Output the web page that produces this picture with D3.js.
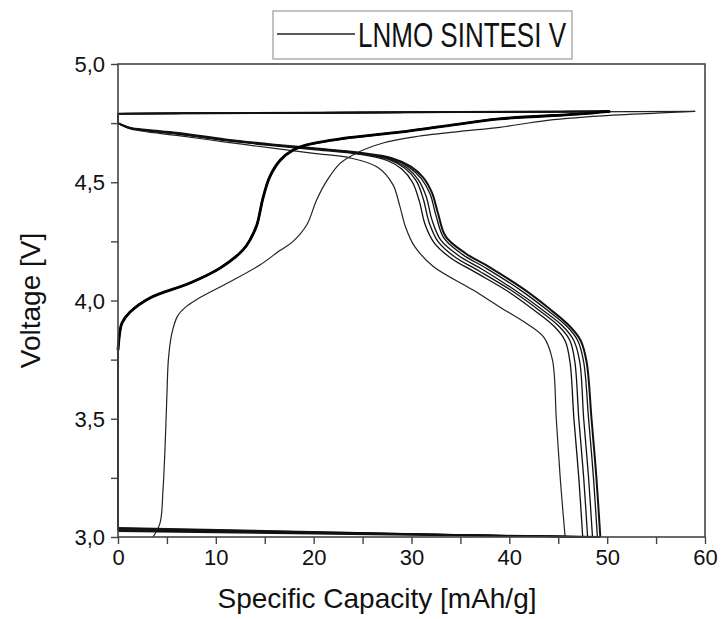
<!DOCTYPE html>
<html>
<head>
<meta charset="utf-8">
<script src="https://cdn.jsdelivr.net/npm/d3@7"></script>
<style>
  html, body { margin: 0; padding: 0; background: #fff; }
  svg { display: block; font-family: "Liberation Sans", Arial, sans-serif; }
</style>
</head>
<body>
<svg id="chart" width="721" height="619"></svg>
<script>
// ---- data (capacity mAh/g, voltage V) ----
const xTicks = [0, 10, 20, 30, 40, 50, 60];
const yTicks = [3.0, 3.5, 4.0, 4.5, 5.0];
const legendLabel = 'LNMO SINTESI V';

// first cycle charge (thin)
const charge1 = [[3.58,3.0],[4.3,3.06],[4.6,3.2],[4.8,3.37],[5.0,3.6],[5.15,3.75],[5.5,3.86],[6.1,3.935],
  [7.0,3.975],[8.2,4.008],[11.4,4.078],[14.5,4.15],[16.5,4.21],[17.9,4.25],[19.3,4.32],[20.3,4.425],
  [21.4,4.51],[22.7,4.58],[24.4,4.624],[27.1,4.666],[30,4.69],[35,4.715],[39,4.732],[43.9,4.762],
  [50.6,4.784],[55,4.792],[59,4.80]];

// later cycles charge (overlapping -> thick)
const chargeN = [[0,3.79],[0.2,3.87],[0.41,3.905],[1.23,3.951],[3.27,4.011],[7.36,4.074],[10.43,4.137],
  [12.78,4.214],[13.49,4.256],[14.2,4.32],[14.8,4.43],[15.5,4.522],[16.6,4.594],[17.9,4.636],[19.3,4.658],
  [23,4.685],[28.8,4.712],[33,4.735],[39,4.768],[46.9,4.788],[50.3,4.80]];

// voltage where each discharge hands over to the next charge (bottom connector)
const restV = [3.04, 3.037, 3.034, 3.031, 3.028, 3.025];
// voltage at the start of every discharge (top connector)
const topV = 4.79;

const discharge1 = [[0,4.75],[1.2,4.726],[3,4.713],[6,4.698],[11,4.67],[16,4.643],[20,4.622],
  [23.7,4.603],[26.5,4.564],[28.1,4.49],[28.8,4.40],[29.4,4.31],[30.3,4.23],[32.2,4.145],[36.3,4.044],
  [39,3.973],[41.5,3.91],[43.5,3.846],[44.4,3.75],[44.8,3.5],[45.2,3.25],[45.7,3.0]];

const discharge2 = [[0,4.75],[1.2,4.728],[3,4.717],[6,4.704],[11,4.676],[16,4.654],[20,4.638],
  [24.7,4.618],[27.5,4.592],[29,4.556],[30.1,4.50],[30.8,4.42],[31.4,4.32],[32.3,4.245],[34,4.18],
  [36.5,4.12],[39.8,4.04],[42.5,3.96],[44.6,3.89],[45.7,3.83],[46.2,3.74],[46.6,3.5],[47.1,3.25],[47.5,3.0]];

const discharge3 = [[0,4.75],[1.2,4.729],[3,4.718],[6,4.706],[11,4.678],[16,4.656],[20,4.641],
  [24.7,4.621],[27.7,4.596],[29.3,4.56],[30.5,4.505],[31.2,4.43],[31.8,4.33],[32.7,4.25],[34.4,4.185],
  [36.9,4.125],[40.3,4.04],[43,3.96],[45.1,3.89],[46.2,3.83],[46.7,3.74],[47.1,3.5],[47.6,3.25],[48.0,3.0]];

const discharge4 = [[0,4.75],[1.2,4.73],[3,4.719],[6,4.707],[11,4.679],[16,4.657],[20,4.642],
  [24.7,4.623],[27.8,4.598],[29.5,4.562],[30.7,4.51],[31.5,4.44],[32.1,4.34],[33,4.255],[34.8,4.19],
  [37.3,4.13],[40.7,4.04],[43.4,3.96],[45.5,3.89],[46.6,3.83],[47.2,3.74],[47.6,3.5],[48.1,3.25],[48.5,3.0]];

const discharge5 = [[0,4.75],[1.2,4.73],[3,4.72],[6,4.708],[11,4.68],[16,4.658],[20,4.643],
  [24.7,4.624],[27.9,4.6],[29.7,4.565],[31,4.515],[31.9,4.45],[32.5,4.36],[33.3,4.265],[35.2,4.195],
  [37.7,4.135],[41.1,4.045],[43.8,3.962],[45.9,3.89],[47,3.83],[47.6,3.74],[48.1,3.5],[48.6,3.25],[49.0,3.0]];

const discharge6 = [[0,4.75],[1.2,4.731],[3,4.721],[6,4.709],[11,4.681],[16,4.659],[20,4.644],
  [24.7,4.625],[28,4.602],[29.9,4.567],[31.2,4.52],[32.1,4.455],[32.7,4.37],[33.5,4.27],[35.5,4.2],
  [38,4.14],[41.4,4.05],[44.1,3.965],[46.2,3.89],[47.3,3.83],[47.9,3.74],[48.4,3.5],[48.9,3.25],[49.3,3.0]];

const discharges = [discharge1, discharge2, discharge3, discharge4, discharge5, discharge6];

// ---- layout ----
const svg = d3.select('#chart');
const m = { l: 118, r: 16, t: 64, b: 82 };
const W = 721, H = 619;
const x = d3.scaleLinear().domain([0, 60]).range([m.l, W - m.r]);
const y = d3.scaleLinear().domain([3.0, 5.0]).range([H - m.b, m.t]);

const smooth = d3.line().x(d => x(d[0])).y(d => y(d[1])).curve(d3.curveCatmullRom.alpha(0.5));
const straight = d3.line().x(d => x(d[0])).y(d => y(d[1]));

const plot = svg.append('g').attr('fill', 'none');

function drawCycle(charge, discharge, restAfter, width, color) {
  const chEnd = charge[charge.length - 1];
  const dsEnd = discharge[discharge.length - 1];
  plot.append('path').datum(charge).attr('stroke', color).attr('stroke-width', width).attr('d', smooth);
  // end of charge back to zero capacity, then down to the discharge start
  plot.append('path').datum([chEnd, [0, topV], discharge[0]])
    .attr('stroke', color).attr('stroke-width', width).attr('d', straight);
  plot.append('path').datum(discharge).attr('stroke', color).attr('stroke-width', width).attr('d', smooth);
  // end of discharge back to zero capacity for the next charge
  plot.append('path').datum([dsEnd, [0, restAfter]])
    .attr('stroke', color).attr('stroke-width', width).attr('d', straight);
}

drawCycle(charge1, discharge1, restV[0], 1.2, '#222');
for (let i = 1; i < discharges.length; i++) {
  const ch = [[0, restV[i - 1]]].concat(chargeN);
  plot.append('path').datum([ch[0], ch[1]]).attr('stroke', '#111').attr('stroke-width', 1.3).attr('d', straight);
  drawCycle(chargeN, discharges[i], restV[i], i === discharges.length - 1 ? 2 : 1.3, '#111');
}

// the overlapping later charges read as one heavy line
plot.append('path').datum(chargeN).attr('stroke', '#000').attr('stroke-width', 2.8).attr('d', smooth);

// ---- frame and axes ----
const frame = '#444';
svg.append('rect')
  .attr('x', x(0)).attr('y', y(5))
  .attr('width', x(60) - x(0)).attr('height', y(3) - y(5))
  .attr('fill', 'none').attr('stroke', frame).attr('stroke-width', 1.6);

const fmtY = d => d3.format('.1f')(d).replace('.', ',');

const xAxis = svg.append('g').attr('transform', `translate(0,${y(3)})`)
  .call(d3.axisBottom(x).tickValues(d3.range(0, 61, 5)).tickSize(7).tickPadding(4)
    .tickFormat(d => xTicks.includes(d) ? d : ''));
const yAxis = svg.append('g').attr('transform', `translate(${x(0)},0)`)
  .call(d3.axisLeft(y).tickValues(d3.range(3.0, 5.01, 0.25)).tickSize(7).tickPadding(6)
    .tickFormat(d => yTicks.some(t => Math.abs(t - d) < 1e-6) ? fmtY(d) : ''));

[xAxis, yAxis].forEach(a => {
  a.select('.domain').remove();
  a.selectAll('line').attr('stroke', frame).attr('stroke-width', 1.4);
  a.selectAll('text').attr('fill', '#111').style('font-size', '22px')
    .style('font-family', '"Liberation Sans", Arial, sans-serif');
});
xAxis.selectAll('text').attr('dy', '0.78em');
yAxis.selectAll('text').attr('dy', '0.35em');

svg.append('text')
  .attr('x', 377).attr('y', 608)
  .attr('text-anchor', 'middle').attr('fill', '#111').style('font-size', '28px')
  .text('Specific Capacity [mAh/g]');

svg.append('text')
  .attr('transform', `translate(40,${(y(3) + y(5)) / 2}) rotate(-90)`)
  .attr('text-anchor', 'middle').attr('fill', '#111').style('font-size', '28px')
  .text('Voltage [V]');

// ---- legend ----
const lg = svg.append('g');
lg.append('rect').attr('x', 273).attr('y', 11).attr('width', 299).attr('height', 48)
  .attr('fill', '#fff').attr('stroke', '#999').attr('stroke-width', 1.2);
lg.append('line').attr('x1', 277).attr('x2', 355).attr('y1', 34).attr('y2', 34)
  .attr('stroke', '#222').attr('stroke-width', 1.4);
lg.append('text').attr('x', 358).attr('y', 47)
  .attr('fill', '#111').style('font-size', '35px')
  .attr('textLength', 208).attr('lengthAdjust', 'spacingAndGlyphs')
  .text(legendLabel);
</script>
</body>
</html>
